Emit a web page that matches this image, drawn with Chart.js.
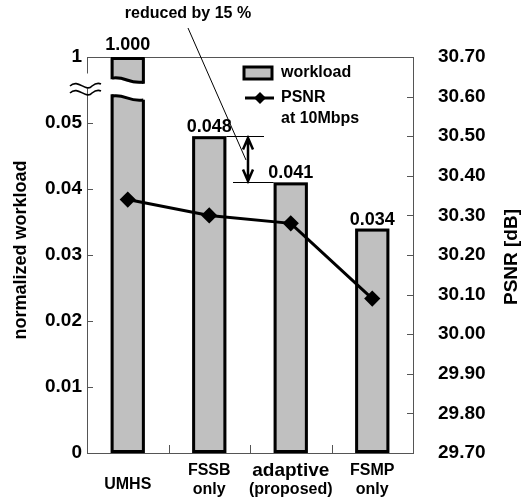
<!DOCTYPE html>
<html>
<head>
<meta charset="utf-8">
<script src="https://cdn.jsdelivr.net/npm/chart.js@4.4.1/dist/chart.umd.min.js"></script>
<style>
  html, body { margin: 0; padding: 0; background: #fff; }
</style>
</head>
<body>
<canvas id="chart" width="526" height="502"></canvas>
<script>
// categories (multi-line labels)
const categories = [["UMHS"], ["FSSB", "only"], ["adaptive", "(proposed)"], ["FSMP", "only"]];
// normalized workload (bars) and their printed values
const workload = [1.000, 0.048, 0.041, 0.034];
const workloadText = ["1.000", "0.048", "0.041", "0.034"];
// PSNR at 10Mbps (line)
const psnr = [30.34, 30.30, 30.28, 30.09];

// left axis: top of the axis (0.06) stands for the broken "1"
const workloadTicks = [0, 0.01, 0.02, 0.03, 0.04, 0.05, 0.06];
const workloadTickText = ["0", "0.01", "0.02", "0.03", "0.04", "0.05", "1"];
const workloadTop = 0.06;
const psnrTicks = [29.70, 29.80, 29.90, 30.00, 30.10, 30.20, 30.30, 30.40, 30.50, 30.60, 30.70];

const FONT = "'Liberation Sans', Arial, sans-serif";
const bold = (s) => "bold " + s + "px " + FONT;

// bars above the top of the axis are cut at the top (axis break)
const workloadShown = workload.map(v => Math.min(v, workloadTop));

function wave(ctx, x0, x1, y, dy) {
    const w = x1 - x0;
    ctx.moveTo(x0, y);
    ctx.bezierCurveTo(x0 + w * 0.45, y - 2, x0 + w * 0.5, y + dy + 2, x1, y + dy);
}

const extras = {
    id: "extras",
    beforeDatasetsDraw(chart) {
        const ctx = chart.ctx;
        const a = chart.chartArea;
        const y = chart.scales.y, y2 = chart.scales.y2, x = chart.scales.x;
        ctx.save();
        ctx.strokeStyle = "#555";
        ctx.lineWidth = 1;
        ctx.strokeRect(a.left + 0.5, a.top + 0.5, a.right - a.left, a.bottom - a.top);
        ctx.beginPath();
        workloadTicks.slice(1, 6).forEach(v => {
            const p = Math.round(y.getPixelForValue(v)) + 0.5;
            ctx.moveTo(a.left, p); ctx.lineTo(a.left + 6, p);
        });
        psnrTicks.slice(1, -1).forEach(v => {
            const p = Math.round(y2.getPixelForValue(v)) + 0.5;
            ctx.moveTo(a.right - 6, p); ctx.lineTo(a.right, p);
        });
        for (let i = 0; i < categories.length - 1; i++) {
            const p = Math.round((x.getPixelForValue(i) + x.getPixelForValue(i + 1)) / 2) + 0.5;
            ctx.moveTo(p, a.bottom); ctx.lineTo(p, a.bottom - 8);
        }
        ctx.stroke();
        ctx.restore();
    },
    afterDatasetDraw(chart, args) {
        // outline + break of the bars, before the PSNR line is drawn on top
        if (args.index !== 1) return;
        const ctx = chart.ctx;
        const y = chart.scales.y;
        const bars = args.meta.data;
        ctx.save();
        ctx.strokeStyle = "#000";
        ctx.lineWidth = 3;
        bars.forEach(el => {
            const l = el.x - el.width / 2, r = el.x + el.width / 2;
            ctx.strokeRect(l + 1.5, el.y + 1.5, r - l - 3, el.base - el.y - 3);
        });

        const b = bars[0];
        const bx0 = b.x - b.width / 2, bx1 = b.x + b.width / 2;
        const yUp = y.getPixelForValue(0.0568), yLo = y.getPixelForValue(0.0541);
        ctx.fillStyle = "#fff";
        ctx.beginPath();
        ctx.moveTo(bx0 - 2, yUp + 1.5);
        ctx.bezierCurveTo(bx0 + b.width * 0.45, yUp - 0.5, bx0 + b.width * 0.5, yUp + 7.5, bx1 + 2, yUp + 5.5);
        ctx.lineTo(bx1 + 2, yLo + 3.5);
        ctx.bezierCurveTo(bx0 + b.width * 0.5, yLo + 5.5, bx0 + b.width * 0.45, yLo - 3.5, bx0 - 2, yLo - 1.5);
        ctx.closePath();
        ctx.fill();
        ctx.beginPath();
        wave(ctx, bx0 + 1.5, bx1 - 1.5, yUp, 4);
        wave(ctx, bx0 + 1.5, bx1 - 1.5, yLo, 4);
        ctx.stroke();
        ctx.restore();
    },
    afterDatasetsDraw(chart) {
        const ctx = chart.ctx;
        const a = chart.chartArea;
        const y = chart.scales.y, x = chart.scales.x;
        const bars = chart.getDatasetMeta(1).data;
        ctx.save();

        // break mark on the left axis
        ctx.fillStyle = "#fff";
        ctx.fillRect(a.left - 2, y.getPixelForValue(0.0575), 4, 15);
        ctx.strokeStyle = "#000";
        ctx.lineWidth = 1.6;
        ctx.beginPath();
        [85, 92].forEach(t => {
            const yy = y.getPixelForValue(workloadTop) + (t - 57);
            ctx.moveTo(70, yy + 1);
            ctx.bezierCurveTo(78, yy - 7, 86, yy + 8, 92, yy + 1);
            ctx.quadraticCurveTo(97, yy - 3, 101, yy - 1);
        });
        ctx.stroke();

        // values above bars
        ctx.fillStyle = "#000";
        ctx.textAlign = "center";
        ctx.textBaseline = "alphabetic";
        ctx.font = bold(18);
        bars.forEach((el, i) => {
            ctx.fillText(workloadText[i], el.x, el.y - (i === 0 ? 7 : 4));
        });

        // category labels
        const lineFonts = [[16], [16, 16], [19, 16], [16, 16]];
        categories.forEach((lines, i) => {
            const px = x.getPixelForValue(i);
            ctx.textBaseline = "middle";
            if (lines.length === 1) {
                ctx.font = bold(16);
                ctx.fillText(lines[0], px, 485);
            } else {
                lines.forEach((t, j) => {
                    ctx.font = bold(lineFonts[i][j]);
                    ctx.fillText(t, px, j === 0 ? 471 : 490);
                });
            }
        });

        // axis titles
        ctx.font = bold(18);
        ctx.save();
        ctx.translate(21, 250);
        ctx.rotate(-Math.PI / 2);
        ctx.fillText("normalized workload", 0, 0);
        ctx.restore();
        ctx.font = bold(19);
        ctx.save();
        ctx.translate(512, 257);
        ctx.rotate(-Math.PI / 2);
        ctx.fillText("PSNR [dB]", 0, 0);
        ctx.restore();

        // legend
        ctx.fillStyle = "#c0c0c0";
        ctx.fillRect(244, 67, 28, 12);
        ctx.lineWidth = 3;
        ctx.strokeRect(244, 67, 28, 12);
        ctx.beginPath();
        ctx.moveTo(245, 98); ctx.lineTo(274, 98);
        ctx.stroke();
        ctx.fillStyle = "#000";
        ctx.beginPath();
        ctx.moveTo(260, 92); ctx.lineTo(266, 98); ctx.lineTo(260, 104); ctx.lineTo(254, 98);
        ctx.closePath();
        ctx.fill();
        ctx.textAlign = "left";
        ctx.font = bold(16);
        ctx.fillText("workload", 281, 73);
        ctx.fillText("PSNR", 281, 98);
        ctx.fillText("at 10Mbps", 281, 119);

        // "reduced by 15 %" annotation
        ctx.textAlign = "center";
        ctx.fillText("reduced by 15 %", 188, 14);
        ctx.lineWidth = 1;
        ctx.beginPath();
        ctx.moveTo(188, 28); ctx.lineTo(246, 160);
        ctx.stroke();
        const yA = Math.round(y.getPixelForValue(workload[1])) + 0.5;
        const yB = Math.round(y.getPixelForValue(workload[2])) + 0.5;
        ctx.beginPath();
        ctx.moveTo(bars[1].x + bars[1].width / 2, yA); ctx.lineTo(264, yA);
        ctx.moveTo(233, yB); ctx.lineTo(bars[2].x - bars[2].width / 2, yB);
        ctx.stroke();
        ctx.lineWidth = 2.5;
        ctx.beginPath();
        ctx.moveTo(248, yA + 1); ctx.lineTo(248, yB - 1);
        ctx.moveTo(243, yA + 13); ctx.lineTo(248, yA + 1.5); ctx.lineTo(253, yA + 13);
        ctx.moveTo(243, yB - 13); ctx.lineTo(248, yB - 1.5); ctx.lineTo(253, yB - 13);
        ctx.stroke();

        ctx.restore();
    }
};

const ctx = document.getElementById("chart").getContext("2d");
const myChart = new Chart(ctx, {
    type: "bar",
    data: {
        labels: categories,
        datasets: [
            {
                type: "line",
                label: "PSNR at 10Mbps",
                data: psnr,
                yAxisID: "y2",
                borderColor: "#000",
                backgroundColor: "#000",
                borderWidth: 3,
                pointStyle: "rectRot",
                pointRadius: 6,
                tension: 0,
                order: 0
            },
            {
                label: "workload",
                data: workloadShown,
                yAxisID: "y",
                backgroundColor: "#c0c0c0",
                borderColor: "#000",
                borderWidth: 0,
                categoryPercentage: 1,
                barPercentage: 0.42,
                order: 1
            }
        ]
    },
    options: {
        responsive: false,
        animation: false,
        layout: { padding: { top: 57, left: 0, right: 0, bottom: 0 } },
        plugins: {
            legend: { display: false },
            tooltip: { enabled: false }
        },
        scales: {
            x: {
                grid: { display: false, drawTicks: false },
                border: { display: false },
                ticks: { display: false },
                afterFit: s => { s.height = 49; }
            },
            y: {
                position: "left",
                min: 0,
                max: workloadTop,
                afterBuildTicks: s => { s.ticks = workloadTicks.map(v => ({ value: v })); },
                ticks: {
                    callback: (v, i) => workloadTickText[i],
                    font: { family: FONT, size: 19, weight: "bold" },
                    color: "#000",
                    padding: 5
                },
                grid: { display: false, drawTicks: false },
                border: { display: false },
                afterFit: s => { s.width = 87; }
            },
            y2: {
                position: "right",
                min: 29.7,
                max: 30.7,
                afterBuildTicks: s => { s.ticks = psnrTicks.map(v => ({ value: v })); },
                ticks: {
                    callback: v => v.toFixed(2),
                    font: { family: FONT, size: 19, weight: "bold" },
                    color: "#000",
                    padding: 25
                },
                grid: { display: false, drawTicks: false },
                border: { display: false },
                afterFit: s => { s.width = 113; }
            }
        }
    },
    plugins: [extras]
});
</script>
</body>
</html>
